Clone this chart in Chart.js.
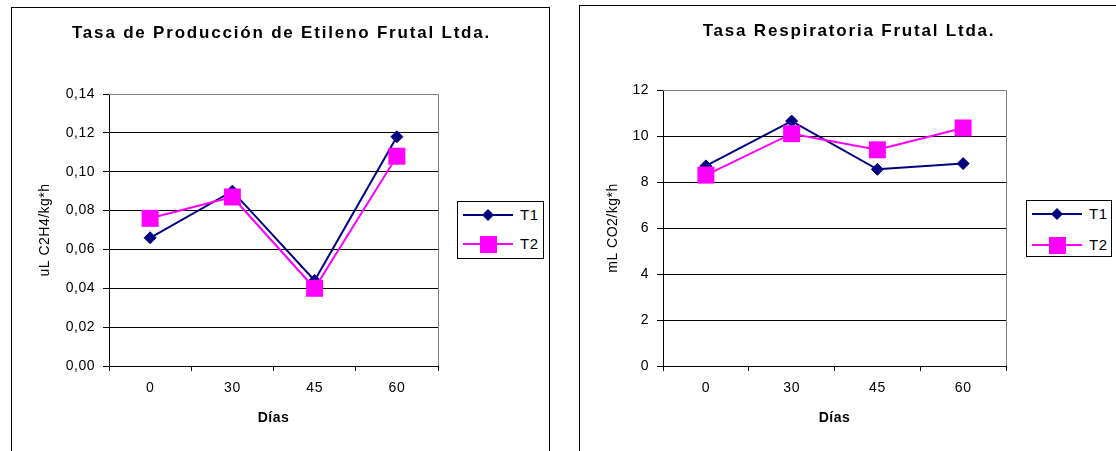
<!DOCTYPE html>
<html>
<head>
<meta charset="utf-8">
<script src="https://cdn.jsdelivr.net/npm/chart.js@4.4.0/dist/chart.umd.min.js"></script>
<style>
html, body { margin:0; padding:0; background:#fff; width:1116px; height:451px; overflow:hidden; }
.box { position:absolute; border:1px solid #000; background:#fff; }
.box canvas { position:absolute; left:0; top:0; }
.legend { position:absolute; border:1px solid #000; background:#fff; box-sizing:border-box;
  font-family: Arial, "Liberation Sans", sans-serif; font-size:15px; letter-spacing:0.5px; color:#000; }
.legend .row { position:absolute; left:0; width:100%; height:24px; }
.legend svg { position:absolute; left:5px; top:0; }
.legend span { position:absolute; top:3px; }
</style>
</head>
<body>
<div class="box" style="left:11px; top:7px; width:537px; height:460px;">
  <canvas id="chart-1" width="537" height="443" style="width:537px;height:443px;"></canvas>
</div>
<div class="box" style="left:579px; top:5px; width:600px; height:460px;">
  <canvas id="chart-2" width="536" height="445" style="width:536px;height:445px;"></canvas>
</div>
<div class="legend" id="legend-1" style="left:457px; top:201px; width:87px; height:58px;"></div>
<div class="legend" id="legend-2" style="left:1026px; top:200px; width:86px; height:57px;"></div>

<script>
// datos
const dias = ['0', '30', '45', '60'];
const series = ['T1', 'T2'];
const etilenoT1 = [0.066, 0.090, 0.044, 0.118];
const etilenoT2 = [0.076, 0.087, 0.040, 0.108];
const respT1 = [8.7, 10.65, 8.55, 8.8];
const respT2 = [8.3, 10.1, 9.4, 10.35];

const colores = ['#000080', '#FF00FF'];
const FONT = 'Arial, "Liberation Sans", sans-serif';

Chart.defaults.font.family = FONT;
Chart.defaults.color = '#000';

// marco gris arriba y a la derecha del area de trazado
const marco = {
    id: 'marco',
    beforeDraw(chart) {
        // el texto de Excel sale algo mas espaciado
        chart.ctx.letterSpacing = '0.5px';
    },
    beforeDatasetsDraw(chart) {
        const a = chart.chartArea;
        const ctx = chart.ctx;
        ctx.save();
        ctx.strokeStyle = '#808080';
        ctx.lineWidth = 1;
        ctx.beginPath();
        ctx.moveTo(a.left, a.top + 0.5);
        ctx.lineTo(a.right + 0.5, a.top + 0.5);
        ctx.lineTo(a.right + 0.5, a.bottom);
        ctx.stroke();
        ctx.restore();
    },
    afterDraw(chart, args, opts) {
        // titulo centrado en todo el recuadro
        const ctx = chart.ctx;
        ctx.save();
        ctx.letterSpacing = '1.8px';
        ctx.font = 'bold 17px ' + FONT;
        ctx.fillStyle = '#000';
        ctx.textAlign = 'center';
        ctx.textBaseline = 'middle';
        ctx.fillText(opts.text, chart.width / 2 + 1, opts.y);
        ctx.restore();
        ctx.letterSpacing = '0px';
    }
};

function crearGrafico(id, titulo, yTitulo, d1, d2, yMax, paso, fmt, arriba, derecha, anchoY) {
    return new Chart(document.getElementById(id), {
        type: 'line',
        data: {
            labels: dias,
            datasets: [{
                label: series[0],
                data: d1,
                borderColor: colores[0],
                backgroundColor: colores[0],
                borderWidth: 2,
                pointStyle: 'rectRot',
                pointRadius: 6,
                pointBorderWidth: 1,
                tension: 0,
                order: 1,
            }, {
                label: series[1],
                data: d2,
                borderColor: colores[1],
                backgroundColor: colores[1],
                borderWidth: 2,
                pointStyle: 'rect',
                pointRadius: 12,
                pointBorderWidth: 0,
                tension: 0,
                order: 0,
            }]
        },
        options: {
            responsive: false,
            animation: false,
            events: [],
            layout: { padding: { left: 0, right: derecha, top: arriba, bottom: 0 } },
            scales: {
                x: {
                    offset: true,
                    grid: {
                        offset: true,
                        drawOnChartArea: false,
                        tickLength: 5,
                        tickColor: '#000',
                    },
                    border: { color: '#000', width: 1 },
                    ticks: { padding: 9, font: { size: 14 }, color: '#000' },
                    title: {
                        display: true,
                        text: 'Días',
                        font: { size: 14, weight: 'bold' },
                        padding: { top: 0, bottom: 24.6 },
                        color: '#000',
                    },
                    afterFit: (s) => { s.height = 85; },
                },
                y: {
                    min: 0,
                    max: yMax,
                    grid: {
                        color: (c) => (c.tick && c.tick.value >= yMax - 1e-9) ? '#808080' : '#000',
                        tickLength: 6,
                        tickColor: '#000',
                    },
                    border: { color: '#000', width: 1 },
                    ticks: {
                        stepSize: paso,
                        padding: 8,
                        font: { size: 14 },
                        color: '#000',
                        callback: fmt,
                    },
                    title: {
                        display: true,
                        text: yTitulo,
                        font: { size: 14 },
                        padding: { top: 24.6, bottom: 0 },
                        color: '#000',
                    },
                    afterFit: (s) => { s.width = anchoY; },
                }
            },
            plugins: {
                title: { display: false },
                legend: { display: false },
                tooltip: { enabled: false },
                marco: { text: titulo, y: 25 },
            }
        },
        plugins: [marco]
    });
}

crearGrafico('chart-1', 'Tasa de Producción de Etileno Frutal Ltda.', 'uL C2H4/kg*h',
    etilenoT1, etilenoT2, 0.14, 0.02,
    (v) => v.toFixed(2).replace('.', ','), 86, 111, 97);

crearGrafico('chart-2', 'Tasa Respiratoria Frutal Ltda.', 'mL CO2/kg*h',
    respT1, respT2, 12, 2,
    (v) => String(v), 84, 110, 83);

// leyenda al estilo de la hoja de calculo
function crearLeyenda(id, filas) {
    const el = document.getElementById(id);
    series.forEach((nombre, i) => {
        const row = document.createElement('div');
        row.className = 'row';
        row.style.top = filas[i] + 'px';
        const c = colores[i];
        const marca = i === 0
            ? `<polygon points="25,6 31,12 25,18 19,12" fill="${c}"/>`
            : `<rect x="17" y="4" width="17" height="17" fill="${c}"/>`;
        row.innerHTML = `<svg width="52" height="24"><line x1="0" y1="12" x2="50" y2="12" stroke="${c}" stroke-width="2"/>${marca}</svg><span style="left:62px">${nombre}</span>`;
        el.appendChild(row);
    });
}
crearLeyenda('legend-1', [1, 30]);
crearLeyenda('legend-2', [1, 32]);
</script>
</body>
</html>
